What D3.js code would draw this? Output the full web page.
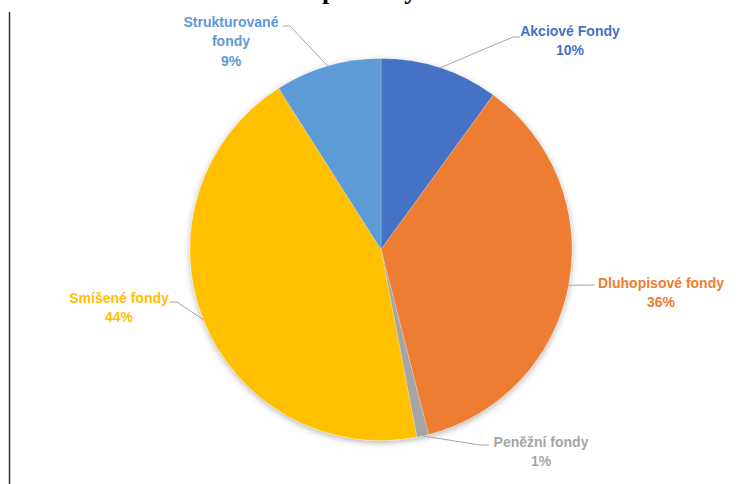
<!DOCTYPE html>
<html>
<head>
<meta charset="utf-8">
<script src="https://cdn.jsdelivr.net/npm/d3@7"></script>
<style>
  html, body { margin: 0; padding: 0; background: #fff; }
  svg { display: block; }
</style>
</head>
<body>
<svg id="chart" width="739" height="484"></svg>
<script>
// Fund categories and their shares (%)
const categories = ["Akciové Fondy", "Dluhopisové fondy", "Peněžní fondy", "Smíšené fondy", "Strukturované fondy"];
const shares = [10, 36, 1, 44, 9];
const colors = ["#4472C4", "#ED7D31", "#A5A5A5", "#FFC000", "#5B9BD5"];
// Label text lines (wrapped) for each category
const labelLines = [
  ["Akciové Fondy"],
  ["Dluhopisové fondy"],
  ["Peněžní fondy"],
  ["Smíšené fondy"],
  ["Strukturované", "fondy"]
];
const title = "Rozdělení podílových fondů";

const svg = d3.select("#chart");
const W = 739, H = 484;
const cx = 381, cy = 249.5, R = 191;

// page border line on the left
svg.append("line")
  .attr("x1", 9.5).attr("x2", 9.5).attr("y1", 12).attr("y2", H)
  .attr("stroke", "#333").attr("stroke-width", 1.5);

// title (mostly above the visible area)
const t = svg.append("text")
  .attr("y", -1)
  .attr("font-family", "'Liberation Serif', 'Times New Roman', serif")
  .attr("font-weight", "bold")
  .attr("font-size", 26)
  .attr("fill", "#000")
  .text(title);
const pIdx = title.indexOf("p");
const pOff = t.node().getSubStringLength(0, pIdx);
t.attr("x", 322 - pOff);

// soft shadow under the pie
const defs = svg.append("defs");
const f = defs.append("filter").attr("id", "shadow")
  .attr("x", "-20%").attr("y", "-20%").attr("width", "140%").attr("height", "140%");
f.append("feDropShadow").attr("dx", 0).attr("dy", 2).attr("stdDeviation", 3)
  .attr("flood-color", "#000").attr("flood-opacity", 0.3);

const data = categories.map((c, i) => ({ name: c, value: shares[i], color: colors[i], lines: labelLines[i] }));
const pie = d3.pie().value(d => d.value).sort(null);
const arcs = pie(data);
const arc = d3.arc().innerRadius(0).outerRadius(R);

const g = svg.append("g").attr("transform", `translate(${cx},${cy})`);
g.append("g").attr("filter", "url(#shadow)")
  .selectAll("path").data(arcs).join("path")
  .attr("d", arc)
  .attr("fill", d => d.data.color)
  .attr("stroke", "#fff").attr("stroke-opacity", 0.35).attr("stroke-width", 0.6);

// label placement: center x / first line center y of the text block,
// plus the leader's elbow and end points
const labelPos = {
  "Akciové Fondy":       { x: 570, y: 31, elbow: [513, 37], end: [520, 37] },
  "Dluhopisové fondy":   { x: 661, y: 283, elbow: null, end: [595, 285] },
  "Peněžní fondy":       { x: 541, y: 442, elbow: [480, 445], end: [489, 445] },
  "Smíšené fondy":       { x: 119, y: 298, elbow: [177, 302], end: [170, 302] },
  "Strukturované fondy": { x: 231, y: 22, elbow: [290, 26], end: [283, 26] }
};

const lineH = 19.5;
const labels = svg.append("g");
arcs.forEach(a => {
  const d = a.data;
  const p = labelPos[d.name];
  const mid = (a.startAngle + a.endAngle) / 2;
  const sx = cx + R * Math.sin(mid), sy = cy - R * Math.cos(mid);
  const pts = [[sx, sy]];
  if (p.elbow) pts.push(p.elbow);
  pts.push(p.end);
  labels.append("path")
    .attr("d", d3.line()(pts))
    .attr("fill", "none").attr("stroke", "#A6A6A6").attr("stroke-width", 1);

  const lines = d.lines.concat([d3.format(".0f")(d.value) + "%"]);
  const txt = labels.append("text")
    .attr("font-family", "'Liberation Sans', Arial, sans-serif")
    .attr("font-weight", "bold")
    .attr("font-size", 14)
    .attr("fill", d.color)
    .attr("text-anchor", "middle");
  lines.forEach((s, i) => {
    txt.append("tspan")
      .attr("x", p.x)
      .attr("y", p.y + i * lineH)
      .attr("dy", "0.35em")
      .text(s);
  });
});
</script>
</body>
</html>
